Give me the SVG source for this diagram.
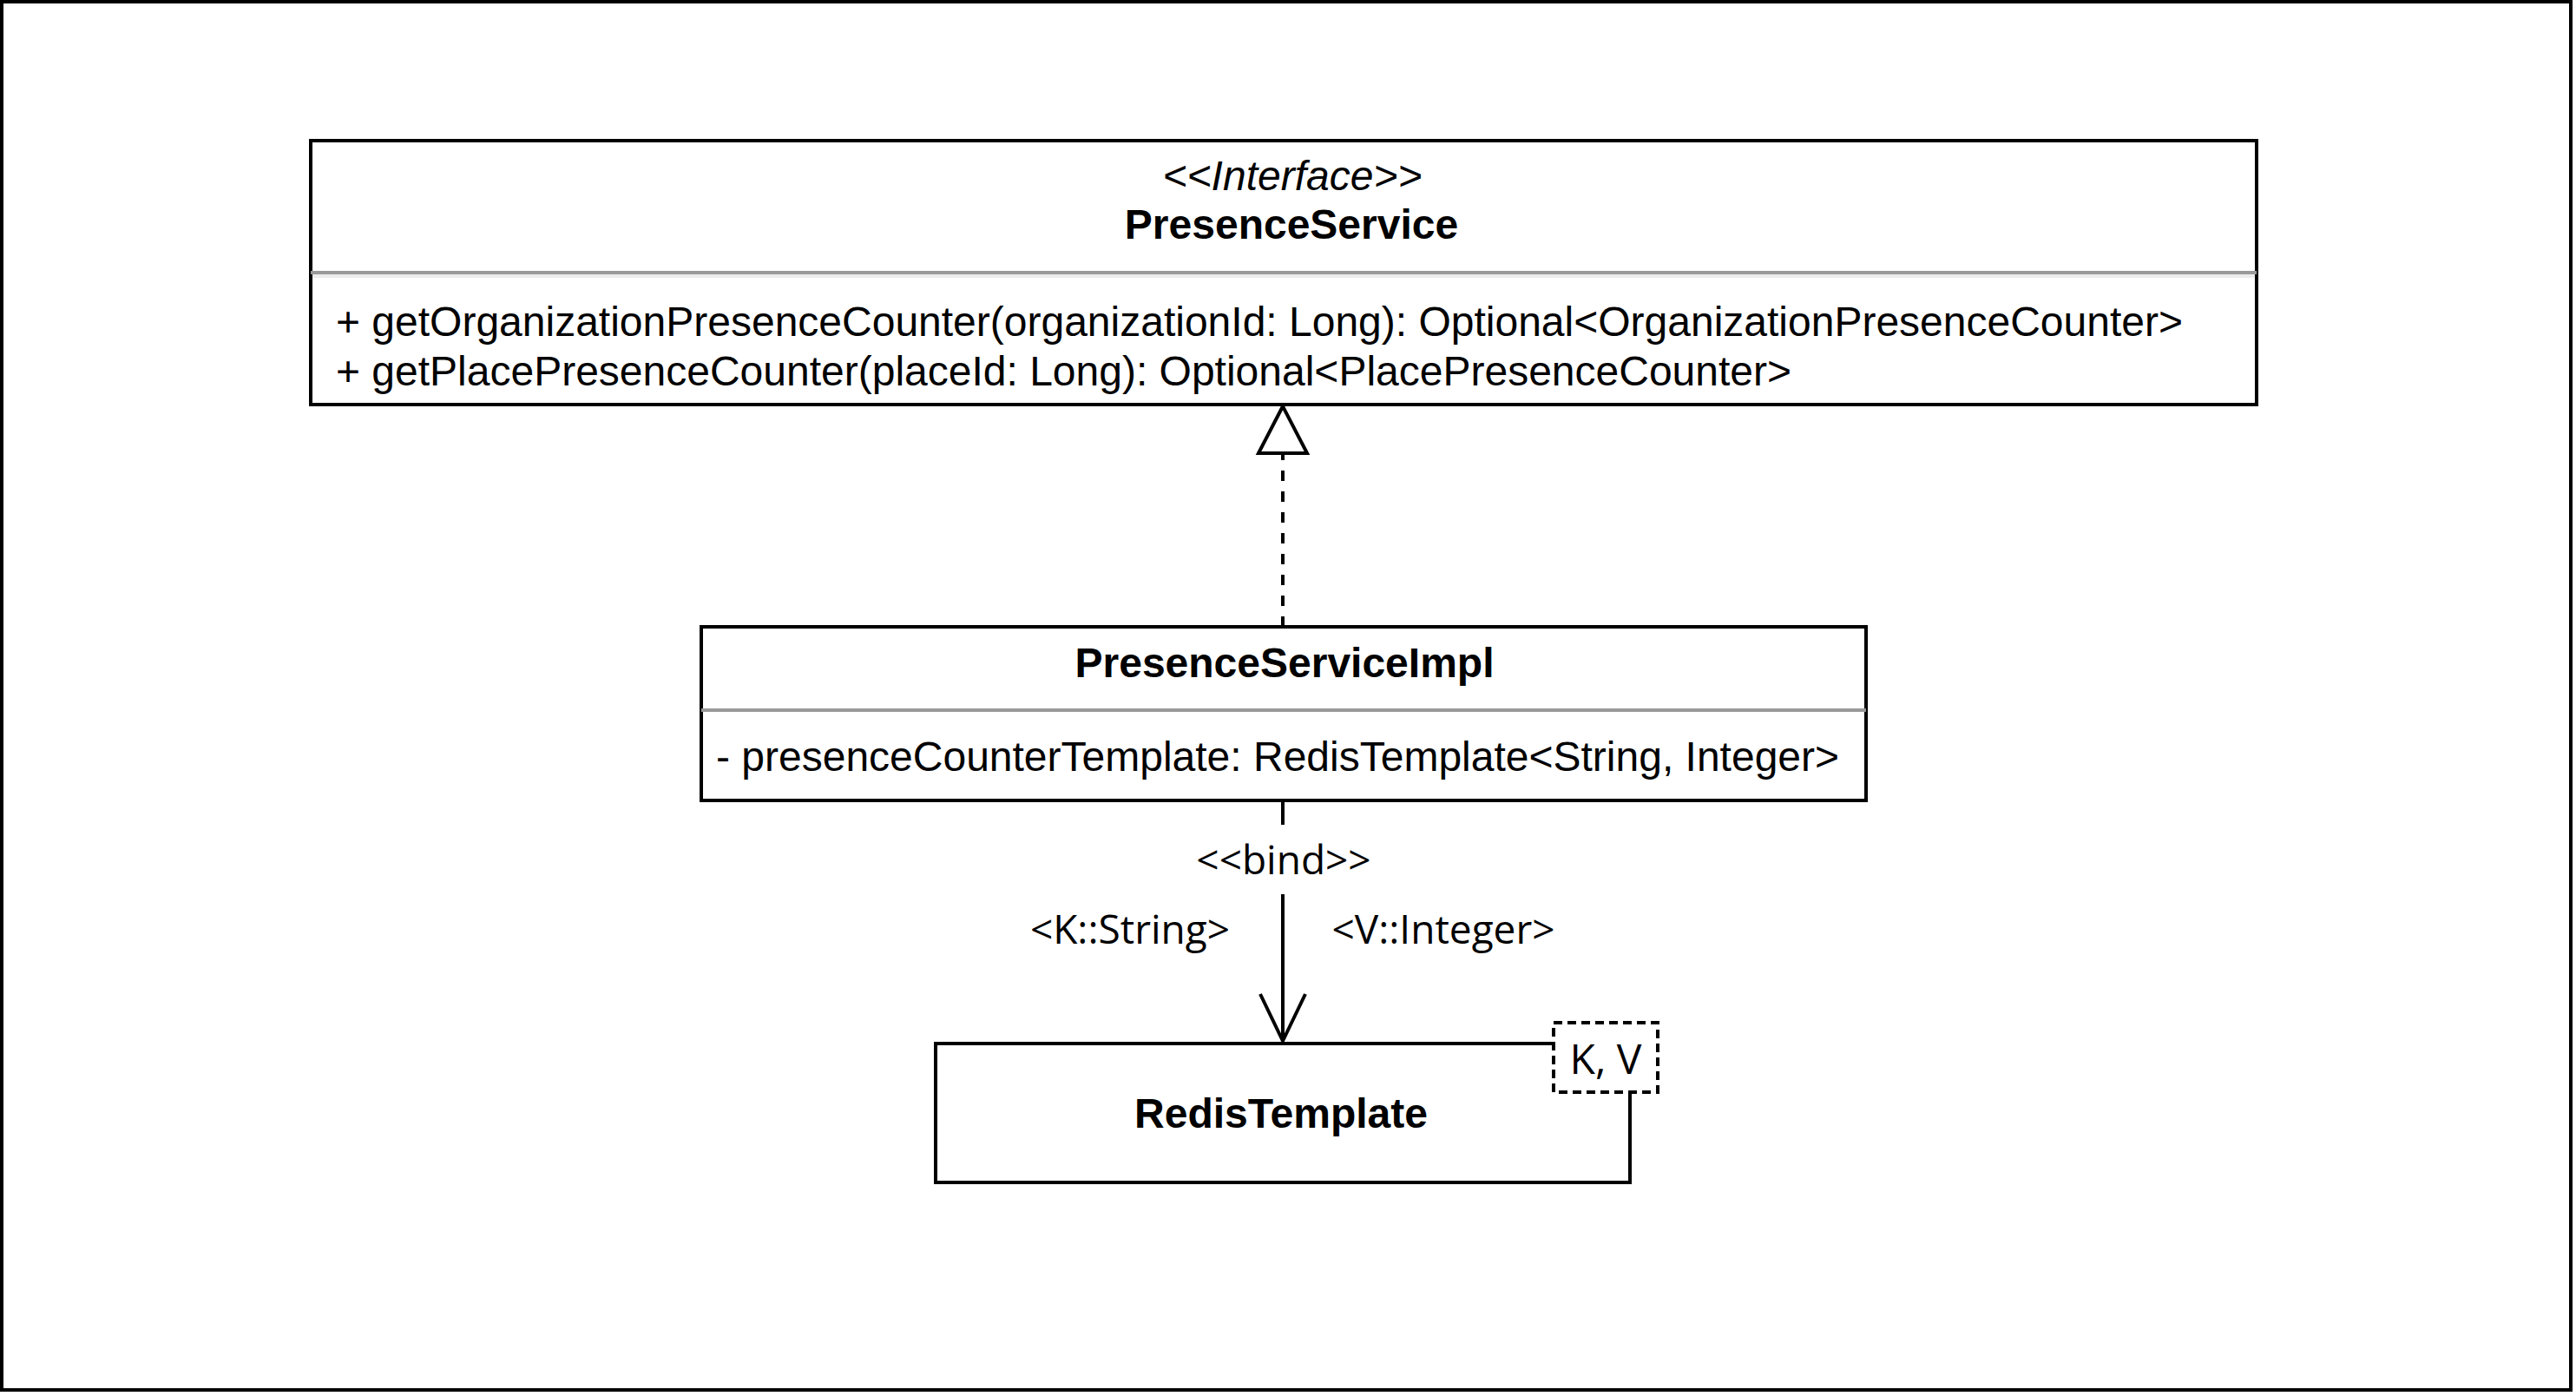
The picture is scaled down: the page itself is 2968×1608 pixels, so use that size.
<svg xmlns="http://www.w3.org/2000/svg" width="2968" height="1608" viewBox="0 0 2968 1608">
<style>
.box{fill:#ffffff;stroke:#000000;stroke-width:4}
.sep{stroke:#999999;stroke-width:4}
.t{font-family:"Liberation Sans",Arial,sans-serif;font-size:48px;fill:#000000}
.b{font-weight:bold}
.i{font-style:italic}
.c{text-anchor:middle}
.lbl{font-family:"Open Sans","Noto Sans",sans-serif;font-size:46px;fill:#000000;text-anchor:middle}
.edge{stroke:#000000;stroke-width:4;fill:none}
</style>
<rect x="0" y="0" width="2968" height="1608" fill="#ffffff"/>
<rect id="frame" x="2" y="2" width="2960" height="1599" fill="none" stroke="#000000" stroke-width="4"/>
<g id="connectors">
  <line class="edge" x1="1478" y1="722" x2="1478" y2="524" stroke-dasharray="12 12"/>
  <polygon points="1478,468 1450,522 1506,522" fill="#ffffff" stroke="#000000" stroke-width="4" stroke-linejoin="miter"/>
  <line class="edge" x1="1478" y1="922" x2="1478" y2="1199"/>
  <polyline class="edge" points="1452,1145 1478,1199 1504,1145" stroke-linejoin="miter"/>
  <rect x="1378" y="950" width="200" height="80" fill="#ffffff"/>
  <text class="lbl" x="1479" y="1007">&lt;&lt;bind&gt;&gt;</text>
  <text class="lbl" x="1302" y="1087">&lt;K::String&gt;</text>
  <text class="lbl" x="1663" y="1087">&lt;V::Integer&gt;</text>
</g>
<g id="PresenceService">
  <rect class="box" x="358" y="162" width="2242" height="304"/>
  <line x1="360" y1="318" x2="2598" y2="318" stroke="#ececec" stroke-width="4"/>
  <line class="sep" x1="358" y1="314" x2="2600" y2="314"/>
  <text class="t i c" x="1489" y="219">&lt;&lt;Interface&gt;&gt;</text>
  <text class="t b c" x="1488" y="275">PresenceService</text>
  <text class="t" x="387" y="387">+ getOrganizationPresenceCounter(organizationId: Long): Optional&lt;OrganizationPresenceCounter&gt;</text>
  <text class="t" x="387" y="444">+ getPlacePresenceCounter(placeId: Long): Optional&lt;PlacePresenceCounter&gt;</text>
</g>
<g id="PresenceServiceImpl">
  <rect class="box" x="808" y="722" width="1342" height="200"/>
  <line class="sep" x1="808" y1="818" x2="2150" y2="818"/>
  <text class="t b c" x="1480" y="780">PresenceServiceImpl</text>
  <text class="t" x="825" y="888">- presenceCounterTemplate: RedisTemplate&lt;String, Integer&gt;</text>
</g>
<g id="RedisTemplate">
  <rect class="box" x="1078" y="1202" width="800" height="160"/>
  <rect x="1790" y="1178" width="120" height="80" fill="#ffffff" stroke="#000000" stroke-width="4" stroke-dasharray="10 6"/>
  <text class="lbl" x="1850" y="1237" style="font-size:48px">K, V</text>
  <text class="t b c" x="1476" y="1299">RedisTemplate</text>
</g>
</svg>
